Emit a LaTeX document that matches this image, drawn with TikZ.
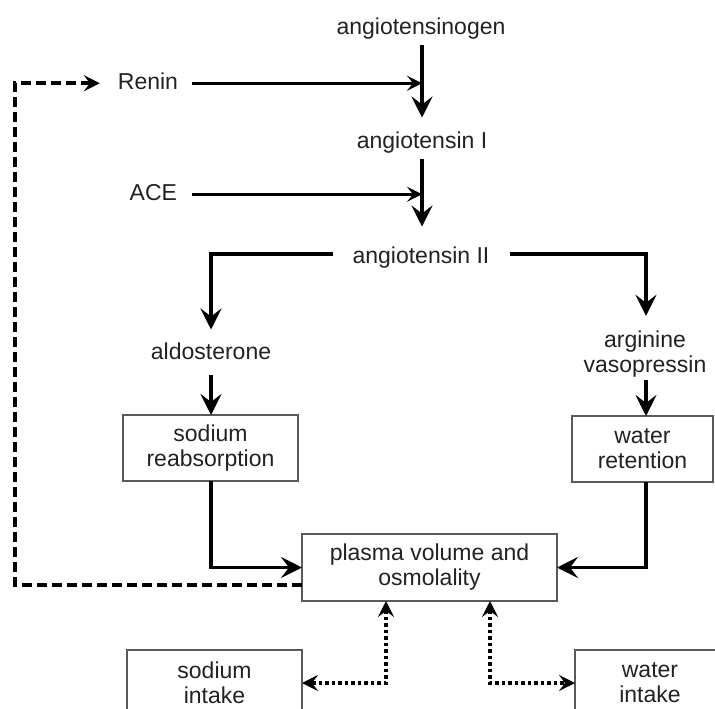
\documentclass[tikz,border=0pt]{standalone}
\usepackage{fontspec}
\setmainfont{Liberation Sans}
\usetikzlibrary{arrows.meta}
\definecolor{txt}{HTML}{222222}
\definecolor{boxc}{HTML}{5A5A5A}
\begin{document}
\begin{tikzpicture}[x=1pt,y=-1pt,
  lbl/.style={font=\fontsize{23}{25}\selectfont, text=txt, inner sep=0pt, outer sep=0pt, text height=16.5pt, text depth=5pt},
  mlbl/.style={font=\fontsize{23}{25}\selectfont, text=txt, inner sep=0pt, outer sep=0pt, align=center},
  boxn/.style={mlbl, draw=boxc, line width=1.5pt},
  mainarrow/.style={line width=3.3pt, -{Stealth[length=21pt,width=21pt,inset=8pt]}},
  sidearrow/.style={line width=2.9pt, -{Stealth[length=15pt,width=15pt,inset=6pt]}},
  feedback/.style={line width=3.8pt, dash pattern=on 10pt off 5pt, -{Stealth[length=16pt,width=16pt,inset=6pt]}},
  dotline/.style={line width=3.8pt, dash pattern=on 3.5pt off 3pt, {Stealth[length=16pt,width=16pt,inset=6pt]}-{Stealth[length=16pt,width=16pt,inset=6pt]}}
]
\useasboundingbox (0,0) rectangle (715,709);
\clip (0,0) rectangle (715,709);
\fill[white] (0,0) rectangle (715,709);

% text nodes
\node[lbl, anchor=base] (agen) at (421,35) {angiotensinogen};
\node[lbl, anchor=base] (a1) at (422,148) {angiotensin I};
\node[lbl, anchor=base] (a2) at (421,263) {angiotensin II};
\node[lbl, anchor=base east] (ren) at (178,89) {Renin};
\node[lbl, anchor=base east] (ace) at (177,200) {ACE};
\node[lbl, anchor=base] (ald) at (211,359) {aldosterone};
\node[mlbl] (avp) at (645,354) {arginine\\vasopressin};

% boxes
\node[boxn, minimum width=175pt, minimum height=66pt] (sr) at (210.5,448) {sodium\\reabsorption};
\node[boxn, minimum width=141pt, minimum height=66pt] (wr) at (642.5,449) {water\\retention};
\node[boxn, minimum width=255pt, minimum height=67pt] (pl) at (429.5,567.5) {plasma volume and\\osmolality};
\node[boxn, minimum width=175pt, minimum height=65pt] (si) at (214.5,682.5) {sodium\\intake};
\node[boxn, minimum width=150pt, minimum height=65pt] (wi) at (650,682.5) {water\\intake};

% coordinates
\coordinate (j1) at (422,82);
\coordinate (j2) at (422,193);
\coordinate (cl) at (211,254);
\coordinate (cr) at (646,254);
\coordinate (dc) at (15,585);
\coordinate (d1) at (386,683);
\coordinate (d2) at (490,683);

% main cascade
\draw[mainarrow, shorten <=5pt, shorten >=14pt] (agen.south -| j1) -- (a1.north -| j1);
\draw[mainarrow, shorten <=6pt, shorten >=20pt] (a1.south -| j2) -- (a2.north -| j2);
\draw[sidearrow, shorten <=14pt] (ren.east) -- (ren.east -| j1);
\draw[sidearrow, shorten <=15pt] (ace.east) -- (ace.east -| j2);

% branches
\draw[mainarrow, shorten <=20pt, shorten >=13pt] (a2.west |- cl) -- (cl) -- (ald.north -| cl);
\draw[mainarrow, shorten <=21pt, shorten >=15pt] (a2.east |- cr) -- (cr) -- (avp.north -| cr);
\draw[mainarrow, shorten <=11pt] (ald.south -| cl) -- (sr.north -| cl);
\draw[mainarrow, shorten <=3pt] (avp.south -| cr) -- (wr.north -| cr);
\draw[mainarrow] (sr.south -| cl) |- (pl.west);
\draw[mainarrow] (wr.south -| cr) |- (pl.east);

% feedback
\draw[feedback, shorten >=18pt] (pl.west |- dc) -- (dc) |- (ren.west);

% intake
\draw[dotline] (pl.south -| d1) -- (d1) -- (si.east |- d1);
\draw[dotline] (pl.south -| d2) -- (d2) -- (wi.west |- d2);
\end{tikzpicture}
\end{document}
